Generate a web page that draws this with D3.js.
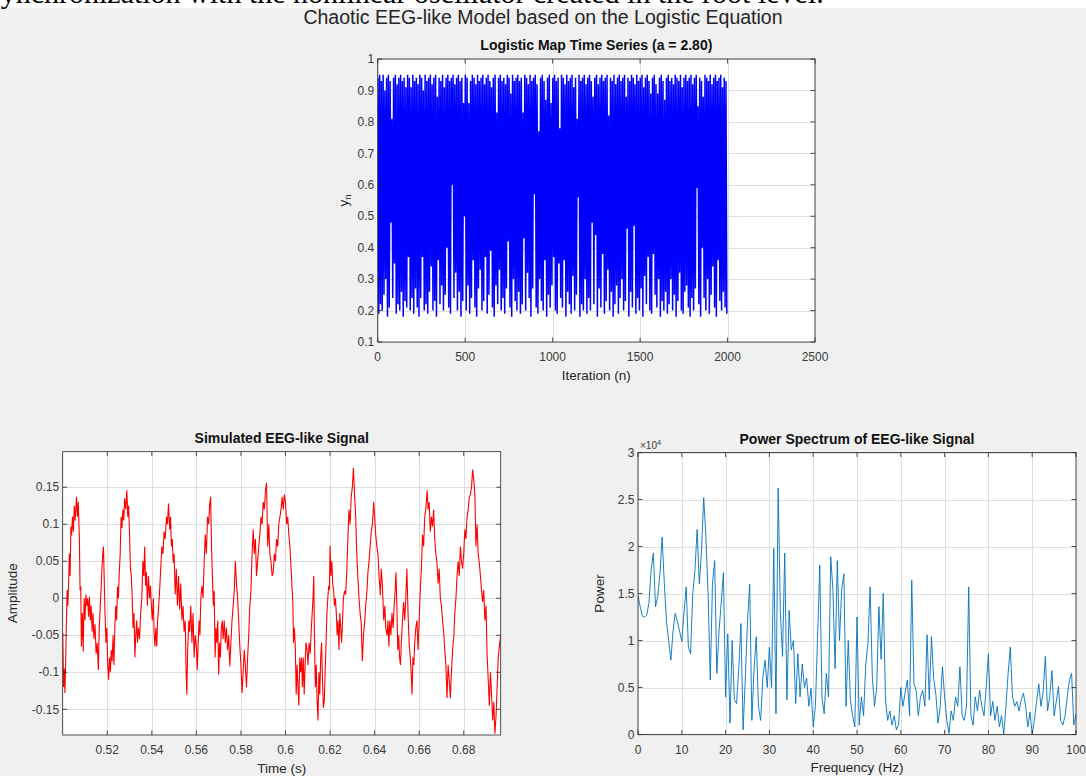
<!DOCTYPE html>
<html>
<head>
  <meta charset="utf-8">
  <title>Chaotic EEG-like Model</title>
  <script src="https://d3js.org/d3.v7.min.js"></script>
  <style>
    body { margin: 0; background: #f0f0f0; }
    svg { display: block; font-family: "Liberation Sans", Arial, Helvetica, sans-serif; }
    .tick-label { font-size: 12px; fill: #3a3a3a; }
    .ax-label { font-size: 13.5px; fill: #262626; }
    .sub-title { font-size: 14px; font-weight: bold; fill: #111; }
  </style>
</head>
<body>
  <svg id="chart"></svg>
  <script>
    // ---- logistic map: upper and lower envelope values
    // high[k] sits at iteration 10k+1, low[k] at 10k+6
    var logHigh = [
      .94,.95,.93,.95,.90,.94,.95,.93,.81,.94,.95,.92,.94,.95,.93,.94,.91,.95,.94,.91,
      .95,.93,.94,.92,.95,.94,.90,.95,.93,.94,.95,.92,.94,.95,.88,.94,.93,.95,.91,.94,
      .95,.93,.94,.95,.92,.94,.95,.93,.94,.86,.95,.94,.86,.93,.95,.94,.92,.95,.93,.94,
      .95,.92,.94,.95,.93,.91,.94,.95,.83,.94,.95,.93,.94,.92,.95,.94,.89,.95,.93,.94,
      .95,.93,.94,.83,.95,.94,.92,.95,.93,.94,.95,.92,.77,.94,.95,.93,.87,.94,.95,.86,
      .94,.95,.93,.94,.78,.95,.94,.92,.95,.93,.94,.95,.91,.94,.81,.95,.93,.94,.95,.92,
      .94,.95,.93,.88,.94,.95,.92,.94,.95,.93,.94,.95,.82,.94,.93,.95,.92,.94,.95,.93,
      .94,.95,.88,.94,.93,.95,.94,.92,.95,.93,.94,.95,.91,.94,.95,.93,.89,.94,.95,.92,
      .89,.94,.95,.93,.87,.94,.95,.93,.94,.92,.95,.94,.93,.95,.91,.94,.95,.93,.94,.95,
      .92,.94,.95,.85,.94,.93,.88,.95,.94,.93,.95,.92,.94,.95,.93,.94,.95,.91,.94,.93
    ];
    var logLow = [
      .19,.22,.20,.25,.30,.18,.21,.48,.24,.35,.19,.22,.20,.26,.18,.23,.21,.37,.20,.24,
      .19,.27,.21,.18,.24,.37,.20,.22,.19,.26,.34,.20,.23,.18,.36,.22,.28,.20,.25,.40,
      .21,.19,.60,.24,.32,.20,.26,.18,.23,.50,.20,.28,.19,.24,.36,.21,.18,.27,.33,.20,
      .23,.37,.19,.25,.39,.21,.18,.28,.22,.33,.20,.24,.19,.27,.42,.21,.18,.30,.23,.20,
      .26,.19,.22,.43,.20,.32,.24,.18,.27,.57,.21,.19,.30,.23,.20,.36,.18,.25,.21,.28,
      .37,.20,.19,.35,.24,.21,.36,.18,.26,.22,.19,.31,.20,.25,.56,.18,.22,.20,.30,.19,
      .24,.20,.48,.22,.44,.18,.27,.21,.38,.19,.23,.33,.20,.26,.18,.22,.28,.19,.24,.30,
      .20,.23,.46,.18,.26,.21,.47,.19,.24,.20,.27,.18,.31,.22,.37,.20,.19,.38,.25,.21,
      .30,.18,.23,.20,.26,.19,.22,.30,.20,.25,.18,.23,.32,.20,.19,.26,.28,.21,.18,.24,
      .20,.27,.59,.22,.18,.40,.24,.20,.30,.19,.25,.34,.21,.18,.36,.23,.20,.26,.21,.19
    ];

    // ---- simulated EEG-like signal: [time (s), amplitude]
    var eegSamples = [
      [0.5000,-0.047],[0.5004,-0.120],[0.5007,-0.095],[0.5010,-0.128],[0.5013,-0.090],[0.5016,-0.040],
      [0.5020,0.011],[0.5023,-0.010],[0.5026,0.016],[0.5030,0.060],[0.5033,0.030],[0.5037,0.097],
      [0.5040,0.085],[0.5044,0.110],[0.5048,0.090],[0.5052,0.125],[0.5056,0.105],[0.5062,0.137],
      [0.5066,0.110],[0.5070,0.130],[0.5075,0.079],[0.5078,0.011],[0.5081,0.016],[0.5084,-0.065],
      [0.5088,-0.020],[0.5092,-0.072],[0.5096,0.000],[0.5100,-0.030],[0.5104,0.005],[0.5108,-0.010],
      [0.5112,0.000],[0.5116,-0.025],[0.5120,0.002],[0.5124,-0.030],[0.5128,-0.010],[0.5132,-0.045],
      [0.5136,-0.020],[0.5140,-0.055],[0.5145,-0.035],[0.5150,-0.075],[0.5155,-0.060],[0.5160,-0.097],
      [0.5164,-0.040],[0.5168,-0.015],[0.5172,0.010],[0.5176,0.040],[0.5180,0.060],[0.5183,0.070],
      [0.5186,0.030],[0.5190,-0.020],[0.5194,-0.060],[0.5198,-0.040],[0.5202,-0.090],[0.5206,-0.110],
      [0.5210,-0.080],[0.5214,-0.100],[0.5218,-0.070],[0.5222,-0.085],[0.5226,-0.050],[0.5230,-0.090],
      [0.5234,-0.040],[0.5238,-0.010],[0.5242,-0.030],[0.5246,0.016],[0.5250,0.000],[0.5254,0.035],
      [0.5258,0.060],[0.5262,0.110],[0.5266,0.095],[0.5270,0.120],[0.5274,0.105],[0.5278,0.135],
      [0.5283,0.120],[0.5288,0.146],[0.5292,0.110],[0.5296,0.125],[0.5300,0.086],[0.5304,0.040],
      [0.5308,0.030],[0.5312,0.000],[0.5316,-0.040],[0.5320,-0.020],[0.5324,-0.080],[0.5328,-0.050],
      [0.5332,-0.030],[0.5336,-0.060],[0.5340,-0.040],[0.5345,-0.055],[0.5350,-0.020],[0.5355,0.000],
      [0.5360,0.050],[0.5364,0.030],[0.5368,0.070],[0.5372,0.017],[0.5376,0.035],[0.5380,-0.010],
      [0.5385,0.030],[0.5390,0.000],[0.5394,0.017],[0.5398,-0.010],[0.5402,-0.030],[0.5407,0.000],
      [0.5410,-0.045],[0.5414,-0.065],[0.5418,-0.040],[0.5422,-0.065],[0.5426,-0.030],[0.5430,-0.015],
      [0.5435,0.010],[0.5440,0.040],[0.5445,0.070],[0.5450,0.060],[0.5455,0.090],[0.5460,0.080],
      [0.5466,0.110],[0.5470,0.100],[0.5475,0.128],[0.5480,0.093],[0.5484,0.110],[0.5488,0.070],
      [0.5492,0.080],[0.5496,0.048],[0.5500,0.060],[0.5505,0.005],[0.5510,0.040],[0.5515,-0.010],
      [0.5520,0.030],[0.5525,-0.015],[0.5530,0.020],[0.5535,-0.030],[0.5540,-0.010],[0.5545,-0.045],
      [0.5550,-0.030],[0.5554,-0.100],[0.5557,-0.130],[0.5561,-0.070],[0.5566,-0.030],[0.5570,-0.045],
      [0.5575,-0.010],[0.5580,-0.060],[0.5585,-0.020],[0.5590,-0.080],[0.5595,-0.050],[0.5600,-0.065],
      [0.5604,-0.097],[0.5608,-0.060],[0.5612,-0.030],[0.5616,-0.050],[0.5620,0.000],[0.5625,0.017],
      [0.5630,0.000],[0.5635,0.050],[0.5640,0.086],[0.5645,0.060],[0.5650,0.110],[0.5655,0.100],
      [0.5660,0.128],[0.5664,0.137],[0.5668,0.070],[0.5672,0.030],[0.5676,-0.010],[0.5680,0.010],
      [0.5684,-0.080],[0.5688,-0.040],[0.5692,-0.060],[0.5696,-0.030],[0.5700,-0.103],[0.5704,-0.060],
      [0.5708,-0.080],[0.5712,-0.040],[0.5716,-0.030],[0.5720,-0.055],[0.5725,-0.030],[0.5730,-0.060],
      [0.5735,-0.040],[0.5740,-0.070],[0.5745,-0.050],[0.5750,-0.092],[0.5755,-0.060],[0.5760,-0.030],
      [0.5765,-0.010],[0.5770,0.010],[0.5775,0.050],[0.5780,0.020],[0.5785,0.000],[0.5790,-0.030],
      [0.5795,-0.065],[0.5800,-0.090],[0.5805,-0.128],[0.5810,-0.100],[0.5815,-0.070],[0.5820,-0.092],
      [0.5825,-0.120],[0.5830,-0.080],[0.5835,-0.050],[0.5840,-0.010],[0.5845,0.010],[0.5850,0.060],
      [0.5855,0.093],[0.5860,0.060],[0.5865,0.080],[0.5870,0.030],[0.5875,0.050],[0.5880,0.070],
      [0.5885,0.086],[0.5890,0.110],[0.5895,0.100],[0.5900,0.130],[0.5905,0.120],[0.5910,0.145],
      [0.5915,0.156],[0.5920,0.070],[0.5925,0.100],[0.5930,0.060],[0.5935,0.050],[0.5940,0.030],
      [0.5945,0.035],[0.5950,0.060],[0.5955,0.050],[0.5960,0.080],[0.5965,0.070],[0.5970,0.100],
      [0.5975,0.110],[0.5980,0.120],[0.5985,0.137],[0.5990,0.120],[0.5995,0.140],[0.6000,0.130],
      [0.6005,0.100],[0.6010,0.110],[0.6015,0.086],[0.6020,0.070],[0.6025,0.040],[0.6030,0.011],
      [0.6033,-0.005],[0.6036,-0.060],[0.6040,-0.040],[0.6044,-0.065],[0.6048,-0.130],[0.6052,-0.090],
      [0.6056,-0.120],[0.6060,-0.145],[0.6064,-0.080],[0.6068,-0.100],[0.6072,-0.080],[0.6076,-0.120],
      [0.6080,-0.080],[0.6084,-0.130],[0.6088,-0.090],[0.6092,-0.060],[0.6097,-0.070],[0.6101,-0.090],
      [0.6106,-0.060],[0.6111,-0.075],[0.6116,-0.040],[0.6120,-0.020],[0.6124,0.003],[0.6127,0.030],
      [0.6130,-0.050],[0.6134,-0.120],[0.6138,-0.090],[0.6142,-0.140],[0.6146,-0.165],[0.6150,-0.100],
      [0.6154,-0.130],[0.6158,-0.080],[0.6162,-0.060],[0.6166,-0.110],[0.6170,-0.148],[0.6174,-0.140],
      [0.6178,-0.100],[0.6182,-0.060],[0.6186,-0.020],[0.6190,0.000],[0.6194,0.017],[0.6197,0.011],
      [0.6200,0.071],[0.6204,0.030],[0.6208,0.050],[0.6212,0.020],[0.6216,0.010],[0.6220,-0.010],
      [0.6224,0.000],[0.6228,-0.020],[0.6232,-0.050],[0.6236,-0.030],[0.6240,-0.070],[0.6244,-0.020],
      [0.6248,-0.040],[0.6252,-0.060],[0.6256,-0.030],[0.6260,0.000],[0.6265,0.010],[0.6270,0.005],
      [0.6275,0.035],[0.6280,0.080],[0.6285,0.120],[0.6290,0.100],[0.6295,0.137],[0.6300,0.150],
      [0.6305,0.176],[0.6310,0.140],[0.6315,0.110],[0.6320,0.060],[0.6325,0.027],[0.6330,0.000],
      [0.6335,-0.020],[0.6340,-0.034],[0.6345,-0.085],[0.6350,-0.050],[0.6355,-0.034],[0.6360,-0.010],
      [0.6366,0.011],[0.6370,0.035],[0.6375,0.050],[0.6380,0.070],[0.6385,0.090],[0.6390,0.100],
      [0.6396,0.130],[0.6400,0.110],[0.6405,0.086],[0.6410,0.070],[0.6415,0.060],[0.6420,0.030],
      [0.6426,0.004],[0.6430,0.040],[0.6435,0.017],[0.6441,-0.030],[0.6446,-0.010],[0.6450,-0.040],
      [0.6456,-0.050],[0.6460,-0.030],[0.6464,-0.065],[0.6468,-0.030],[0.6473,-0.050],[0.6478,-0.020],
      [0.6483,-0.040],[0.6487,-0.015],[0.6492,0.010],[0.6496,0.035],[0.6500,-0.010],[0.6504,-0.070],
      [0.6508,-0.050],[0.6512,-0.080],[0.6516,-0.090],[0.6520,-0.060],[0.6525,-0.030],[0.6530,-0.005],
      [0.6535,-0.030],[0.6540,0.000],[0.6545,0.040],[0.6550,-0.020],[0.6555,-0.060],[0.6560,-0.080],
      [0.6564,-0.100],[0.6568,-0.130],[0.6572,-0.080],[0.6576,-0.090],[0.6580,-0.060],[0.6585,-0.040],
      [0.6590,-0.030],[0.6595,-0.070],[0.6600,-0.030],[0.6605,0.010],[0.6610,0.040],[0.6615,0.086],
      [0.6620,0.070],[0.6625,0.110],[0.6630,0.120],[0.6636,0.146],[0.6640,0.120],[0.6645,0.130],
      [0.6650,0.090],[0.6655,0.110],[0.6660,0.097],[0.6665,0.120],[0.6670,0.080],[0.6675,0.060],
      [0.6680,0.048],[0.6685,0.020],[0.6690,0.040],[0.6695,0.000],[0.6700,-0.010],[0.6705,-0.030],
      [0.6710,-0.045],[0.6715,-0.070],[0.6720,-0.090],[0.6725,-0.135],[0.6730,-0.090],[0.6735,-0.110],
      [0.6740,-0.135],[0.6745,-0.100],[0.6750,-0.070],[0.6756,-0.050],[0.6760,-0.020],[0.6765,0.000],
      [0.6770,0.030],[0.6775,0.050],[0.6780,0.030],[0.6785,0.070],[0.6790,0.050],[0.6795,0.040],
      [0.6800,0.060],[0.6805,0.093],[0.6810,0.080],[0.6815,0.110],[0.6820,0.120],[0.6825,0.137],
      [0.6830,0.140],[0.6835,0.150],[0.6840,0.174],[0.6845,0.160],[0.6850,0.140],[0.6855,0.070],
      [0.6860,0.100],[0.6865,0.060],[0.6870,0.048],[0.6875,0.030],[0.6880,0.010],[0.6885,-0.005],
      [0.6890,0.011],[0.6895,-0.030],[0.6900,-0.010],[0.6905,-0.077],[0.6910,-0.110],[0.6915,-0.145],
      [0.6920,-0.100],[0.6925,-0.130],[0.6930,-0.165],[0.6935,-0.140],[0.6940,-0.183],[0.6945,-0.160],
      [0.6950,-0.120],[0.6955,-0.080],[0.6960,-0.065],[0.6966,-0.050]
    ];

    // ---- power spectrum, 0 to 100 Hz every 0.5 Hz, in units of 1e4
    var specStepHz = 0.5;
    var specPower = [
      1.48,1.36,1.26,1.25,1.27,1.40,1.75,1.93,1.36,1.47,1.70,2.10,1.62,1.20,1.00,0.79,1.10,1.29,1.20,1.10,
      0.99,1.30,1.57,0.93,0.86,1.50,1.75,2.18,1.60,1.95,2.52,2.11,1.50,0.58,1.60,1.85,0.65,1.10,1.40,1.72,
      0.40,1.07,0.12,1.00,0.37,0.33,0.70,1.18,0.05,0.60,1.20,1.60,0.15,0.70,1.04,0.30,0.15,0.60,0.79,0.50,
      0.93,0.50,1.98,0.22,2.62,1.30,0.83,1.93,0.37,1.32,0.90,1.00,0.33,0.86,0.40,0.75,0.50,0.60,0.30,0.49,
      0.08,0.30,1.04,1.80,0.40,0.22,0.65,0.40,1.89,1.54,0.70,1.85,1.00,1.54,1.71,0.30,1.00,0.37,0.20,0.08,
      1.25,0.10,0.40,0.20,0.75,0.97,1.57,0.61,0.30,0.50,1.36,0.80,1.50,0.37,0.15,0.25,0.10,0.20,0.05,0.10,
      0.50,0.30,0.45,0.58,0.20,1.64,0.54,0.47,0.20,0.40,0.47,0.30,1.06,0.37,1.04,0.60,0.43,0.12,0.30,0.72,
      0.40,0.15,0.01,0.25,0.15,0.40,0.30,0.72,0.20,0.15,0.30,1.57,0.20,0.10,0.40,0.25,0.47,0.30,0.20,0.50,
      0.86,0.20,0.35,0.15,0.30,0.08,0.20,0.00,0.30,0.65,0.93,0.40,0.30,0.35,0.25,0.37,0.44,0.30,0.08,0.24,
      0.00,0.15,0.35,0.54,0.30,0.45,0.83,0.25,0.40,0.68,0.20,0.35,0.51,0.15,0.10,0.20,0.40,0.58,0.65,0.10,
      0.22
    ];

    // ---- ticks
    var logXTicks = [0, 500, 1000, 1500, 2000, 2500];
    var logYTicks = [0.1, 0.2, 0.3, 0.4, 0.5, 0.6, 0.7, 0.8, 0.9, 1];
    var eegXTicks = [0.52, 0.54, 0.56, 0.58, 0.6, 0.62, 0.64, 0.66, 0.68];
    var eegYTicks = [-0.15, -0.1, -0.05, 0, 0.05, 0.1, 0.15];
    var specXTicks = [0, 10, 20, 30, 40, 50, 60, 70, 80, 90, 100];
    var specYTicks = [0, 0.5, 1, 1.5, 2, 2.5, 3];

    var width = 1086, height = 776;
    var svg = d3.select("#chart").attr("width", width).attr("height", height);

    svg.append("rect").attr("width", width).attr("height", height).attr("fill", "#f0f0f0");
    // strip of page text above the figure (cut off in the original too)
    svg.append("rect").attr("width", width).attr("height", 8).attr("fill", "#fff");
    svg.append("text")
        .attr("x", -11).attr("y", 2.5)
        .style("font-family", "'Liberation Serif', 'Times New Roman', serif")
        .style("font-size", "30px")
        .text("synchronization with the nonlinear oscillator created in the root level.");

    svg.append("text")
        .attr("x", 543).attr("y", 24)
        .attr("text-anchor", "middle")
        .style("font-size", "19.5px").style("fill", "#262626")
        .text("Chaotic EEG-like Model based on the Logistic Equation");

    var clipId = 0;
    // builds one MATLAB-style axes box and returns its scales and layers
    function makeAxes(box, xDomain, yDomain, xTicks, yTicks) {
      var x = d3.scaleLinear().domain(xDomain).range([box.left, box.right]);
      var y = d3.scaleLinear().domain(yDomain).range([box.bottom, box.top]);
      var g = svg.append("g");

      g.append("rect")
          .attr("x", box.left).attr("y", box.top)
          .attr("width", box.right - box.left).attr("height", box.bottom - box.top)
          .attr("fill", "#fff");

      // grid
      g.selectAll(".gx").data(xTicks).enter().append("line")
          .attr("x1", d => Math.round(x(d)) + 0.5).attr("x2", d => Math.round(x(d)) + 0.5)
          .attr("y1", box.top).attr("y2", box.bottom)
          .attr("stroke", "#dedede").attr("stroke-width", 1);
      g.selectAll(".gy").data(yTicks).enter().append("line")
          .attr("y1", d => Math.round(y(d)) + 0.5).attr("y2", d => Math.round(y(d)) + 0.5)
          .attr("x1", box.left).attr("x2", box.right)
          .attr("stroke", "#dedede").attr("stroke-width", 1);

      clipId++;
      svg.append("clipPath").attr("id", "clip" + clipId).append("rect")
          .attr("x", box.left).attr("y", box.top)
          .attr("width", box.right - box.left).attr("height", box.bottom - box.top);
      var data = g.append("g").attr("clip-path", "url(#clip" + clipId + ")");

      var over = svg.append("g");
      over.append("rect")
          .attr("x", box.left).attr("y", box.top)
          .attr("width", box.right - box.left).attr("height", box.bottom - box.top)
          .attr("fill", "none").attr("stroke", "#262626").attr("stroke-width", 0.8);

      var tl = 4.5;
      xTicks.forEach(function(d) {
        var px = x(d);
        over.append("line").attr("x1", px).attr("x2", px).attr("y1", box.bottom).attr("y2", box.bottom - tl)
            .attr("stroke", "#262626").attr("stroke-width", 0.8);
        over.append("line").attr("x1", px).attr("x2", px).attr("y1", box.top).attr("y2", box.top + tl)
            .attr("stroke", "#262626").attr("stroke-width", 0.8);
        over.append("text").attr("class", "tick-label")
            .attr("x", px).attr("y", box.bottom + 19)
            .attr("text-anchor", "middle").text(String(d));
      });
      yTicks.forEach(function(d) {
        var py = y(d);
        over.append("line").attr("y1", py).attr("y2", py).attr("x1", box.left).attr("x2", box.left + tl)
            .attr("stroke", "#262626").attr("stroke-width", 0.8);
        over.append("line").attr("y1", py).attr("y2", py).attr("x1", box.right).attr("x2", box.right - tl)
            .attr("stroke", "#262626").attr("stroke-width", 0.8);
        over.append("text").attr("class", "tick-label")
            .attr("x", box.left - 3.5).attr("y", py + 4.2)
            .attr("text-anchor", "end").text(String(d));
      });
      return {x: x, y: y, data: data, over: over, box: box};
    }

    function addTitle(ax, text) {
      ax.over.append("text").attr("class", "sub-title")
          .attr("x", (ax.box.left + ax.box.right) / 2).attr("y", ax.box.top - 9)
          .attr("text-anchor", "middle").text(text);
    }
    function addXLabel(ax, text) {
      return ax.over.append("text").attr("class", "ax-label")
          .attr("x", (ax.box.left + ax.box.right) / 2).attr("y", ax.box.bottom + 37.5)
          .attr("text-anchor", "middle").text(text);
    }
    function addYLabel(ax, text, dx) {
      var cy = (ax.box.top + ax.box.bottom) / 2;
      return ax.over.append("text").attr("class", "ax-label")
          .attr("transform", "translate(" + (ax.box.left - dx) + "," + cy + ") rotate(-90)")
          .attr("text-anchor", "middle").text(text);
    }

    // ---- top: logistic map
    var mapAx = makeAxes({left: 377.7, right: 815, top: 59, bottom: 342}, [0, 2500], [0.1, 1], logXTicks, logYTicks);
    var logSeries = [];
    logHigh.forEach(function(v, k) {
      logSeries.push({n: 10 * k + 1, v: v});
      logSeries.push({n: 10 * k + 6, v: logLow[k]});
    });
    mapAx.data.append("path")
        .datum(logSeries)
        .attr("fill", "none").attr("stroke", "#0000ff").attr("stroke-width", 1.5)
        .attr("d", d3.line().x(d => mapAx.x(d.n)).y(d => mapAx.y(d.v)));
    addTitle(mapAx, "Logistic Map Time Series (a = 2.80)");
    addXLabel(mapAx, "Iteration (n)");
    var yl = addYLabel(mapAx, "", 30);
    yl.text("y").append("tspan").attr("dy", 3.5).style("font-size", "9.5px").text("n");

    // ---- bottom left: EEG-like signal
    var eegAx = makeAxes({left: 62.7, right: 500.7, top: 451.7, bottom: 735}, [0.5, 0.6966], [-0.1847, 0.198], eegXTicks, eegYTicks);
    eegAx.data.append("path")
        .datum(eegSamples)
        .attr("fill", "none").attr("stroke", "#ff0000").attr("stroke-width", 1.1)
        .attr("d", d3.line().x(d => eegAx.x(d[0])).y(d => eegAx.y(d[1])));
    addTitle(eegAx, "Simulated EEG-like Signal");
    addXLabel(eegAx, "Time (s)");
    addYLabel(eegAx, "Amplitude", 46);

    // ---- bottom right: power spectrum
    var specAx = makeAxes({left: 638, right: 1076, top: 452.5, bottom: 734.5}, [0, 100], [0, 3], specXTicks, specYTicks);
    specAx.data.append("path")
        .datum(specPower)
        .attr("fill", "none").attr("stroke", "#0072bd").attr("stroke-width", 0.9)
        .attr("d", d3.line().x((d, i) => specAx.x(i * specStepHz)).y(d => specAx.y(d)));
    addTitle(specAx, "Power Spectrum of EEG-like Signal");
    addXLabel(specAx, "Frequency (Hz)");
    addYLabel(specAx, "Power", 34);
    var ex = specAx.over.append("text").attr("class", "tick-label")
        .attr("x", 640).attr("y", 449).style("font-size", "10px");
    ex.append("tspan").text("\u00d710");
    ex.append("tspan").attr("dy", -4).style("font-size", "7.5px").text("4");
  </script>
</body>
</html>
